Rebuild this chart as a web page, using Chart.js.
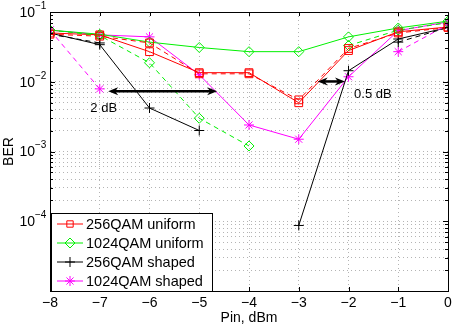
<!DOCTYPE html>
<html>
<head>
<meta charset="utf-8">
<script src="https://cdn.jsdelivr.net/npm/chart.js@4.4.1/dist/chart.umd.min.js"></script>
<style>
  html, body { margin: 0; padding: 0; background: #fff; }
</style>
</head>
<body>
<canvas id="grafico" width="457" height="330"></canvas>
<script>
// x axis values (Pin, dBm)
const pin = [-8, -7, -6, -5, -4, -3, -2, -1, 0];

// BER curves (null = no point)
const qam256Uniform      = [0.050, 0.047, 0.027, 0.0135, 0.0135, 0.0050, 0.028, 0.052, 0.061];
const qam256UniformAlt   = [0.048, 0.045, 0.036, 0.0130, 0.0130, 0.0055, 0.030, 0.050, 0.060];
const qam1024Uniform     = [0.055, 0.048, 0.037, 0.031, 0.027, 0.027, 0.044, 0.059, 0.074];
const qam1024UniformAlt  = [0.055, 0.046, 0.0187, 0.0030, 0.0012, null, 0.033, 0.055, 0.070];
const qam256Shaped       = [0.050, 0.034, 0.0042, 0.0020, null, 0.000087, 0.0144, 0.041, 0.060];
const qam256ShapedAlt    = [0.048, 0.036, null, null, null, null, null, 0.037, 0.060];
const qam1024Shaped      = [0.055, 0.047, 0.044, 0.0126, 0.0024, 0.0015, 0.0118, 0.054, 0.072];
const qam1024ShapedAlt   = [0.055, 0.0079, null, null, null, null, null, 0.027, 0.066];

const legendLabels = ['256QAM uniform', '1024QAM uniform', '256QAM shaped', '1024QAM shaped'];
const yTickExps = [-4, -3, -2, -1];   // labelled decades
const yGridExps = [-5, -4, -3, -2];   // decades with minor grid
const xTicks = [-8, -7, -6, -5, -4, -3, -2, -1, 0];

// gap annotations: arrows and their labels
const arrows = [
    { from: -6.83, to: -4.64, ber: 0.0073, text: '2 dB', tx: -6.92, tber: 0.0041 },
    { from: -2.62, to: -2.07, ber: 0.0101, text: '0.5 dB', tx: -1.51, tber: 0.0065 }
];

const FONT = '"Liberation Sans", Arial, Helvetica, sans-serif';
const GREEN = '#00f000';

function pts(values) {
    return pin.map((x, i) => ({ x: x, y: values[i] }));
}

function serie(label, values, color, style, dashed, inLegend) {
    return {
        label: label,
        data: pts(values),
        borderColor: color,
        backgroundColor: color,
        borderWidth: 1,
        borderDash: dashed ? [5, 4] : [],
        pointStyle: style,
        pointRadius: style === 'rect' ? 5.5 : 5,
        pointBorderColor: color,
        pointBackgroundColor: 'rgba(0,0,0,0)',
        pointBorderWidth: 1,
        tension: 0,
        inLegend: inLegend
    };
}

const datasets = [
    serie('256QAM uniform b', qam256UniformAlt, '#ff0000', 'rect', true, false),
    serie('1024QAM uniform b', qam1024UniformAlt, GREEN, 'rectRot', true, false),
    serie('256QAM shaped b', qam256ShapedAlt, '#000000', 'cross', true, false),
    serie('1024QAM shaped b', qam1024ShapedAlt, '#ff00ff', 'star', true, false),
    serie(legendLabels[0], qam256Uniform, '#ff0000', 'rect', false, true),
    serie(legendLabels[1], qam1024Uniform, GREEN, 'rectRot', false, true),
    serie(legendLabels[2], qam256Shaped, '#000000', 'cross', false, true),
    serie(legendLabels[3], qam1024Shaped, '#ff00ff', 'star', false, true)
];

// box, inner ticks, legend, y labels with exponents, axis titles, arrows
const moldura = {
    id: 'moldura',
    afterDatasetsDraw(chart) {
        const ctx = chart.ctx;
        const xs = chart.scales.x;
        const ys = chart.scales.y;

        ctx.save();
        ctx.strokeStyle = '#000';
        ctx.fillStyle = '#000';
        ctx.lineWidth = 2.5;
        arrows.forEach(ar => {
            const x1 = xs.getPixelForValue(ar.from);
            const x2 = xs.getPixelForValue(ar.to);
            const y = ys.getPixelForValue(ar.ber);
            ctx.beginPath();
            ctx.moveTo(x1 + 6, y);
            ctx.lineTo(x2 - 6, y);
            ctx.stroke();
            [[x1, 1], [x2, -1]].forEach(([x, d]) => {
                ctx.beginPath();
                ctx.moveTo(x, y);
                ctx.lineTo(x + d * 10, y - 4);
                ctx.lineTo(x + d * 7, y);
                ctx.lineTo(x + d * 10, y + 4);
                ctx.closePath();
                ctx.fill();
            });
            ctx.font = '13px ' + FONT;
            ctx.textAlign = 'center';
            ctx.textBaseline = 'middle';
            ctx.fillText(ar.text, xs.getPixelForValue(ar.tx), ys.getPixelForValue(ar.tber));
        });
        ctx.restore();
    },
    afterDraw(chart) {
        const ctx = chart.ctx;
        const a = chart.chartArea;
        const xs = chart.scales.x;
        const ys = chart.scales.y;
        ctx.save();
        ctx.strokeStyle = '#000';
        ctx.lineWidth = 1;

        // inner tick marks
        ctx.beginPath();
        xs.ticks.forEach(t => {
            const x = Math.round(xs.getPixelForValue(t.value)) + 0.5;
            ctx.moveTo(x, a.bottom); ctx.lineTo(x, a.bottom - 4);
            ctx.moveTo(x, a.top); ctx.lineTo(x, a.top + 4);
        });
        ys.ticks.forEach(t => {
            const y = Math.round(ys.getPixelForValue(t.value)) + 0.5;
            const len = t.major ? 5 : 3;
            ctx.moveTo(a.left, y); ctx.lineTo(a.left + len, y);
            ctx.moveTo(a.right, y); ctx.lineTo(a.right - len, y);
        });
        ctx.stroke();

        // legend
        const lx = a.left + 1, lw = 161, lh = 78, ly = a.bottom - lh;
        ctx.fillStyle = '#fff';
        ctx.fillRect(lx, ly, lw, lh);
        ctx.strokeRect(Math.round(lx) + 0.5, Math.round(ly) + 0.5, lw, lh);
        ctx.font = '14.5px ' + FONT;
        ctx.textBaseline = 'middle';
        ctx.textAlign = 'left';
        chart.data.datasets.filter(d => d.inLegend).forEach((d, i) => {
            const y = ly + 11 + i * 19;
            ctx.strokeStyle = d.borderColor;
            ctx.beginPath();
            ctx.moveTo(lx + 6, y);
            ctx.lineTo(lx + 32, y);
            ctx.stroke();
            ctx.fillStyle = 'rgba(0,0,0,0)';
            Chart.helpers.drawPoint(ctx, {
                pointStyle: d.pointStyle,
                radius: d.pointStyle === 'rect' ? 4.5 : 5,
                borderWidth: 1,
                rotation: 0
            }, lx + 19, y);
            ctx.fillStyle = '#000';
            ctx.fillText(d.label, lx + 35, y + 1);
        });

        // box
        ctx.strokeStyle = '#000';
        ctx.strokeRect(Math.round(a.left) + 0.5, Math.round(a.top) + 0.5,
            Math.round(a.right - a.left), Math.round(a.bottom - a.top));

        // y tick labels 10^n
        ctx.fillStyle = '#000';
        yTickExps.forEach(e => {
            const y = ys.getPixelForValue(Math.pow(10, e));
            ctx.font = '14px ' + FONT;
            ctx.textAlign = 'right';
            ctx.textBaseline = 'middle';
            ctx.fillText('10', a.left - 15, y + 1);
            ctx.font = '10px ' + FONT;
            ctx.textAlign = 'left';
            ctx.fillText('\u2212' + Math.abs(e), a.left - 15, y - 6);
        });

        // axis titles
        ctx.font = '14px ' + FONT;
        ctx.textAlign = 'center';
        ctx.textBaseline = 'middle';
        ctx.fillText('Pin, dBm', (a.left + a.right) / 2, 318);
        ctx.save();
        ctx.translate(9, (a.top + a.bottom) / 2);
        ctx.rotate(-Math.PI / 2);
        ctx.fillText('BER', 0, 0);
        ctx.restore();
        ctx.restore();
    }
};

const ctx = document.getElementById('grafico').getContext('2d');

new Chart(ctx, {
    type: 'line',
    data: { datasets: datasets },
    options: {
        responsive: false,
        animation: false,
        devicePixelRatio: 1,
        layout: { padding: { top: 12, right: 9, left: 0, bottom: 0 } },
        plugins: {
            legend: { display: false },
            tooltip: { enabled: false }
        },
        scales: {
            x: {
                type: 'linear',
                min: -8,
                max: 0,
                afterBuildTicks: s => { s.ticks = xTicks.map(v => ({ value: v })); },
                afterFit: s => { s.height = 39; },
                ticks: {
                    color: '#000',
                    padding: 4,
                    font: { size: 14, family: FONT },
                    callback: v => (v < 0 ? '\u2212' + Math.abs(v) : '' + v)
                },
                grid: { color: '#b4b4b4', lineWidth: 1, drawTicks: false },
                border: { display: true, color: '#000', dash: [1, 3] }
            },
            y: {
                type: 'logarithmic',
                min: 1e-5,
                max: 1e-1,
                afterBuildTicks: s => {
                    const t = [];
                    yGridExps.forEach(e => {
                        for (let m = 1; m <= 9; m++) {
                            t.push({ value: m * Math.pow(10, e), major: m === 1 });
                        }
                    });
                    t.push({ value: 1e-1, major: true });
                    s.ticks = t;
                },
                afterFit: s => { s.width = 50; },
                ticks: { display: false },
                grid: {
                    drawTicks: false,
                    lineWidth: 1,
                    color: c => (c.tick && c.tick.value > 0.0101 && !c.tick.major) ? 'rgba(0,0,0,0)' : '#b4b4b4'
                },
                border: { display: true, color: '#000', dash: [1, 3] }
            }
        }
    },
    plugins: [moldura]
});
</script>
</body>
</html>
